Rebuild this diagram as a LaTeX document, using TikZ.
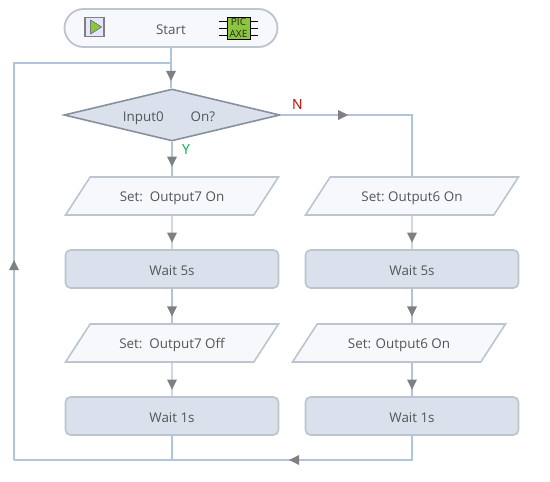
\documentclass[tikz,border=0pt]{standalone}
\usepackage{fontspec}
\setmainfont{Open Sans}
\usetikzlibrary{arrows.meta,positioning,shapes.geometric,decorations.markings,calc}
\definecolor{flowline}{HTML}{B0C4DE}
\definecolor{boxedge}{HTML}{BCC4CE}
\definecolor{boxfill}{HTML}{DBE1EC}
\definecolor{inputfill}{HTML}{F6F8FB}
\definecolor{decedge}{HTML}{87919C}
\definecolor{txt}{HTML}{555555}
\definecolor{chipgreen}{HTML}{8CC63F}
\definecolor{yesgreen}{HTML}{00B050}
\definecolor{nored}{HTML}{C00000}
\begin{document}
\begin{tikzpicture}[x=1pt,y=-1pt,
  every node/.style={font=\fontsize{13.4}{15}\selectfont,text=txt},
  fl/.style={draw=flowline,line width=1.4pt},
  tipat/.style={postaction={decorate},decoration={markings,
      mark=at position #1 with {\arrow[gray,line width=0pt]{Triangle[length=10pt,width=10pt]}}}},
  waitbox/.style={draw=boxedge,line width=1.6pt,fill=boxfill,rounded corners=5pt,
      minimum width=213pt,minimum height=38pt,inner sep=0pt,text height=12pt,text depth=0pt},
  setbox/.style={draw=boxedge,line width=1.6pt,fill=inputfill,trapezium,trapezium stretches body=true,
      trapezium left angle=57,trapezium right angle=123,
      minimum width=213pt,text height=12pt,text depth=1pt,inner xsep=0pt,inner ysep=12.5pt},
  lb/.style={font=\fontsize{14}{15}\selectfont,inner sep=0pt},
]
\useasboundingbox (0,0) rectangle (550,482);
% ============ left lane ============
\node[draw=boxedge,line width=1.8pt,fill=inputfill,rounded corners=19pt,text height=12pt,text depth=0pt,
      minimum width=213pt,minimum height=38pt,inner sep=0pt] (start) at (171,28) {Start};
\node[draw=decedge,line width=1.6pt,fill=boxfill,diamond,aspect=4.1,text height=12pt,text depth=0pt,
      minimum width=216pt,minimum height=52pt,inner sep=0pt] (input) at (172,115)
  {Input0\hspace{27pt}On?\kern6pt};
\node[setbox] (set7on) at (172,196) {Set:\ \ Output7 On};
\node[waitbox] (wait5a) at (172,269) {Wait 5s};
\node[setbox] (set7off) at (172,343) {Set:\ \ Output7 Off};
\node[waitbox] (wait1a) at (172,416) {Wait 1s};
% ============ right lane ============
\node[setbox] (set6on) at (412,196) {Set:\ Output6 On};
\node[waitbox] (wait5b) at (412,269) {Wait 5s};
\node[setbox] (set6again) at (399,343) {Set: Output6 On};
\node[waitbox] (wait1b) at (412,416) {Wait 1s};
% ============ start icons ============
\node[draw=gray,line width=1.4pt,fill=blue!10,minimum size=19pt,inner sep=0pt] (play) at (94.5,27) {};
\node[draw=black!70,fill=chipgreen,isosceles triangle,isosceles triangle apex angle=65,
      minimum height=11pt,inner sep=0pt] (playtip) at (play) {};
\foreach \py in {21,28,35} {
  \draw[black,thin] (219,\py) -- (258,\py);
}
\node[draw=black,line width=.8pt,fill=chipgreen,minimum width=23pt,minimum height=22pt,
      inner sep=0pt,align=center,font=\fontsize{10}{11.5}\selectfont,text=black!85] (chip) at (238.5,28) {PIC\\AXE};
% ============ connectors ============
\coordinate (joinline) at (172,63);
\coordinate (leftcorner) at (14,460);
\coordinate (rightturn) at (412,115);
\coordinate (loopjoin) at (172,460);
\draw[fl,tipat=0.82] (start) -- (start|-input.north);
\draw[fl,tipat=0.72] (input) -- (input|-set7on.north);
\draw[fl,tipat=0.8] (set7on) -- (wait5a);
\draw[fl,tipat=0.8] (wait5a) -- (set7off);
\draw[fl,tipat=0.8] (set7off) -- (wait1a);
\draw[fl,tipat=0.8] (set6on.south) -- (wait5b);
\draw[fl,tipat=0.8] (wait5b) -- (wait5b|-set6again.north);
\draw[fl,tipat=0.8] (wait5b|-set6again.south) -- (wait1b);
\draw[fl,tipat=0.35] (input.east) -- (rightturn) -- (rightturn|-set6on.north);
\draw[fl] (wait1a) -- (loopjoin);
\draw[fl,tipat=147pt] (wait1b) |- (leftcorner);
\draw[fl,tipat=200pt] (leftcorner) -- (leftcorner|-joinline) -- (joinline);
\node[lb,text=yesgreen,anchor=west] (ylabel) at (182,150) {Y};
\node[lb,text=nored,anchor=west] (nlabel) at (292,105) {N};
\end{tikzpicture}
\end{document}
